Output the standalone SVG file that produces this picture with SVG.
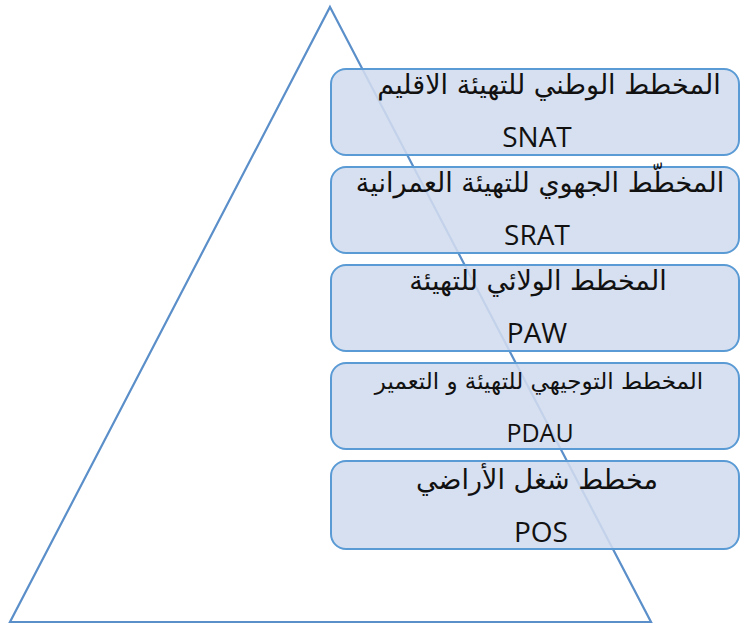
<svg xmlns="http://www.w3.org/2000/svg" width="741" height="625" viewBox="0 0 741 625">
<style>
.tri{fill:none;stroke:#5B8FC9;stroke-width:2.2;stroke-linejoin:miter}
.box{fill:#D2DCEE;fill-opacity:0.88;stroke:#5B9BD5;stroke-width:2}
.ar{font-family:"DejaVu Sans","Noto Sans",sans-serif;font-size:27px;fill:#111;text-anchor:middle}
.ar4{font-size:23px}
.la{font-family:"Open Sans","Liberation Sans",sans-serif;font-size:28px;fill:#111;text-anchor:middle}
</style>
<g id="pyramid"><polygon class="tri" points="330,7 651,622 10,622"/></g>
<g id="node-snat">
<rect class="box" x="331" y="69" width="408" height="86" rx="15"/>
<text class="ar" x="549" y="94" direction="rtl">المخطط الوطني للتهيئة الاقليم</text>
<text class="la" x="537" y="147">SNAT</text>
</g>
<g id="node-srat">
<rect class="box" x="331" y="167" width="408" height="86" rx="15"/>
<text class="ar" x="540" y="192" direction="rtl">المخطّط الجهوي للتهيئة العمرانية</text>
<text class="la" x="537" y="245">SRAT</text>
</g>
<g id="node-paw">
<rect class="box" x="331" y="265" width="408" height="86" rx="15"/>
<text class="ar" x="538" y="290" direction="rtl">المخطط الولائي للتهيئة</text>
<text class="la" x="537" y="343">PAW</text>
</g>
<g id="node-pdau">
<rect class="box" x="331" y="363" width="408" height="86" rx="15"/>
<text class="ar ar4" x="539" y="389" direction="rtl">المخطط التوجيهي للتهيئة و التعمير</text>
<text class="la" x="540" y="442" style="font-size:25px">PDAU</text>
</g>
<g id="node-pos">
<rect class="box" x="331" y="461" width="408" height="88" rx="15"/>
<text class="ar" x="537" y="489" direction="rtl">مخطط شغل الأراضي</text>
<text class="la" x="541" y="542">POS</text>
</g>
<g id="connectors"></g>
</svg>
